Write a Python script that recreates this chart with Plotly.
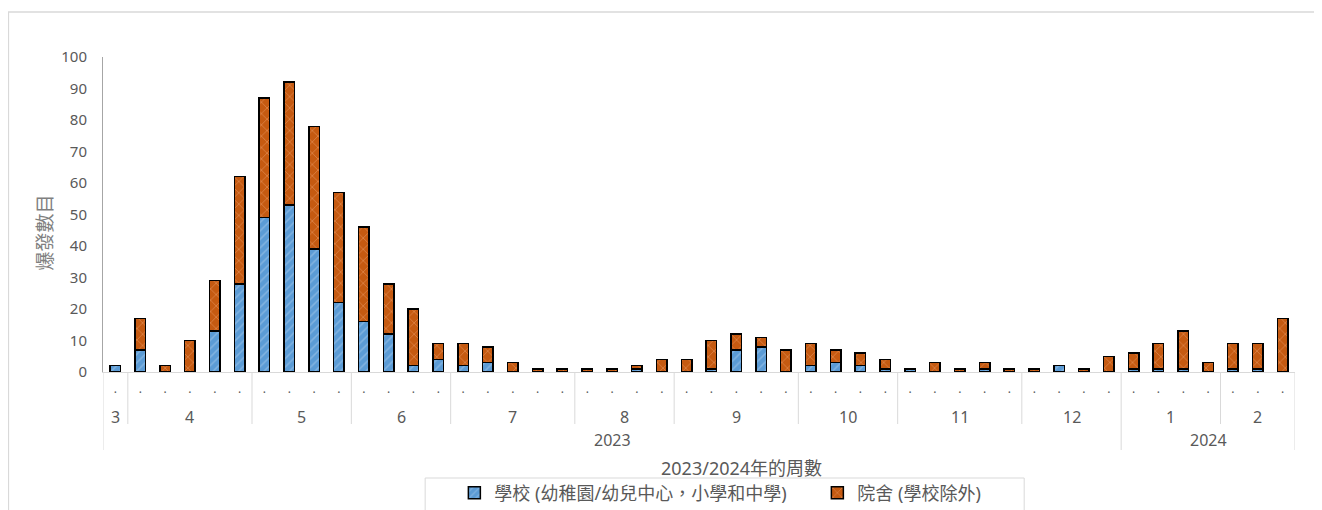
import plotly.graph_objects as go

# ---- data ----
week_labels = ["."] * 48
month_labels = ["3", "4", "5", "6", "7", "8", "9", "10", "11", "12", "1", "2"]
month_weeks = [1, 5, 4, 4, 5, 4, 5, 4, 5, 4, 4, 3]
year_labels = ["2023", "2024"]
year_months = [10, 2]

school = [2, 7, 0, 0, 13, 28, 49, 53, 39, 22, 16, 12, 2, 4,
          2, 3, 0, 0, 0, 0, 0, 1, 0, 0, 1, 7, 8, 0,
          2, 3, 2, 1, 1, 0, 0, 1, 0, 0, 2, 0, 0,
          1, 1, 1, 0, 1, 1, 0]
homes = [0, 10, 2, 10, 16, 34, 38, 39, 39, 35, 30, 16, 18, 5,
         7, 5, 3, 1, 1, 1, 1, 1, 4, 4, 9, 5, 3, 7,
         7, 4, 4, 3, 0, 3, 1, 2, 1, 1, 0, 1, 5,
         5, 8, 12, 3, 8, 8, 17]

name_school = "學校 (幼稚園/幼兒中心，小學和中學)"
name_homes = "院舍 (學校除外)"
x_title = "2023/2024年的周數"
y_title = "爆發數目"

x = list(range(len(week_labels)))

# ---- layout geometry, in page pixels (the page body adds an 8px margin) ----
OFF = 8
W, H = 1322 - OFF, 510 - OFF
L, R, T, B = 103, 1287, 57, 372   # plot area in page px
PW, PH = R - L, B - T


def px_x(p):
    return (p - L) / PW


def px_y(p):
    return (B - p) / PH


TXT = "#595959"
GRID = "#d9d9d9"
FONT = "Noto Sans, Noto Sans CJK TC, sans-serif"

fig = go.Figure()
fig.add_trace(go.Bar(
    x=x, y=school, name=name_school,
    marker=dict(color="#5B9BD5", line=dict(color="black", width=1.5),
                pattern=dict(shape="/", fgcolor="#A9CBEB", size=6, solidity=0.25)),
))
fig.add_trace(go.Bar(
    x=x, y=homes, name=name_homes,
    marker=dict(color="#C55A11", line=dict(color="black", width=1.5),
                pattern=dict(shape="x", fgcolor="#F0A878", size=8, solidity=0.2)),
))

shapes = []
annotations = []

# month labels and separators
start = 0
month_bounds = [-0.5]
for lab, n in zip(month_labels, month_weeks):
    centre = start + (n - 1) / 2
    annotations.append(dict(x=centre, y=px_y(417), xref="x", yref="paper",
                            xanchor="center", yanchor="middle",
                            text=lab, showarrow=False,
                            font=dict(size=16, color=TXT, family=FONT)))
    start += n
    month_bounds.append(start - 0.5)

# year labels
year_bounds = [-0.5]
mi = 0
for lab, nm in zip(year_labels, year_months):
    s = year_bounds[-1]
    e = month_bounds[mi + nm]
    annotations.append(dict(x=(s + e) / 2, y=px_y(440), xref="x", yref="paper",
                            xanchor="center", yanchor="middle",
                            text=lab, showarrow=False,
                            font=dict(size=16, color=TXT, family=FONT)))
    mi += nm
    year_bounds.append(e)

for b in month_bounds:
    if b not in year_bounds:
        shapes.append(dict(type="line", xref="x", yref="paper", x0=b, x1=b,
                           y0=0, y1=px_y(424), line=dict(color=GRID, width=1)))
for b in year_bounds:
    shapes.append(dict(type="line", xref="x", yref="paper", x0=b, x1=b,
                       y0=0, y1=px_y(450), line=dict(color=GRID, width=1)))

# outer chart border
shapes.append(dict(type="rect", xref="paper", yref="paper",
                   x0=px_x(9), x1=px_x(1340), y0=px_y(520), y1=px_y(12),
                   line=dict(color=GRID, width=1.5), fillcolor="rgba(0,0,0,0)", layer="below"))
# legend box
shapes.append(dict(type="rect", xref="paper", yref="paper",
                   x0=px_x(423), x1=px_x(1018), y0=px_y(516), y1=px_y(478),
                   line=dict(color=GRID, width=1), fillcolor="rgba(0,0,0,0)"))

# axis titles
annotations.append(dict(x=px_x(737), y=px_y(468), xref="paper", yref="paper",
                        xanchor="center", yanchor="middle",
                        text=x_title, showarrow=False,
                        font=dict(size=18, color=TXT, family=FONT)))
annotations.append(dict(x=px_x(45), y=px_y(233), xref="paper", yref="paper",
                        xanchor="center", yanchor="middle",
                        text=y_title, showarrow=False, textangle=-90,
                        font=dict(size=19, color="#808080", family=FONT)))

fig.update_layout(
    width=W, height=H,
    margin=dict(l=L - OFF, r=(1322 - R) - OFF, t=T - OFF, b=H - (B - OFF),
                autoexpand=False),
    paper_bgcolor="white", plot_bgcolor="white",
    barmode="stack", bargap=0.58,
    font=dict(family=FONT, color=TXT, size=14),
    showlegend=True,
    legend=dict(orientation="h", x=px_x(452), y=px_y(493), xanchor="left", yanchor="middle",
                font=dict(size=18, color=TXT, family=FONT),
                entrywidth=318, entrywidthmode="pixels",
                bgcolor="rgba(0,0,0,0)", traceorder="normal"),
    xaxis=dict(range=[-0.5, len(x) - 0.5], tickmode="array", tickvals=x,
               ticktext=week_labels, showgrid=False, zeroline=False,
               showline=True, linecolor=GRID, linewidth=1, ticks="",
               ticklabelstandoff=6, tickfont=dict(size=12, color=TXT)),
    yaxis=dict(range=[0, 100], dtick=10, showgrid=False, zeroline=False,
               showline=True, linecolor="#a6a6a6", linewidth=1, ticks="",
               ticklabelstandoff=12, tickfont=dict(size=15, color=TXT)),
    shapes=shapes, annotations=annotations,
)

fig.write_html("out.html")
